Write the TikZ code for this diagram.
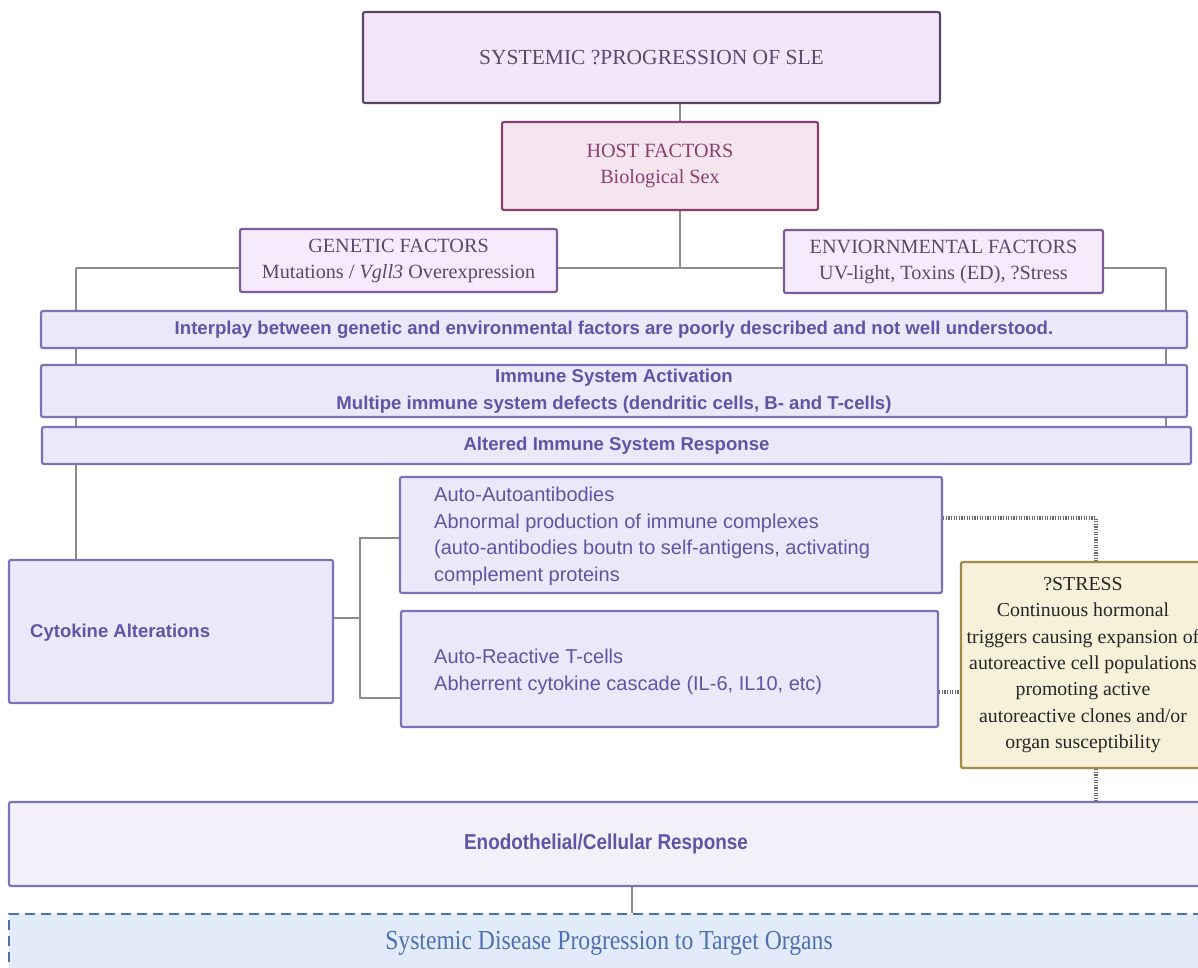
\documentclass[tikz,border=0pt]{standalone}
\usepackage{fontspec}
\setmainfont{Liberation Serif}
\setsansfont{Liberation Sans}
\newfontfamily\narrowsans[FakeStretch=0.88]{Liberation Sans}
\newfontfamily\narrowserif[FakeStretch=0.86]{Liberation Serif}
\usetikzlibrary{calc,backgrounds}
\definecolor{topfill}{HTML}{F3E6FB}
\definecolor{topdraw}{HTML}{5A4468}
\definecolor{hostfill}{HTML}{F5E5EF}
\definecolor{hostdraw}{HTML}{8B3F6F}
\definecolor{facfill}{HTML}{F5EBFC}
\definecolor{facdraw}{HTML}{7E5A96}
\definecolor{factext}{HTML}{5A4A6A}
\definecolor{bandfill}{HTML}{EAE8F9}
\definecolor{banddraw}{HTML}{7B72B8}
\definecolor{bandtext}{HTML}{5E56A4}
\definecolor{stressfill}{HTML}{F6F1D8}
\definecolor{stressdraw}{HTML}{A28A48}
\definecolor{endofill}{HTML}{F3F0FA}
\definecolor{botfill}{HTML}{E2EBF9}
\definecolor{botdraw}{HTML}{4F6FB0}
\definecolor{conn}{HTML}{8C8C8C}
\tikzset{
  basebox/.style={rectangle, rounded corners=2pt, line width=2.2pt, inner sep=0pt, align=center},
  topbox/.style={basebox, fill=topfill, draw=topdraw, text=factext, font=\fontsize{21.5}{25}\selectfont},
  hostbox/.style={basebox, fill=hostfill, draw=hostdraw, text=hostdraw, font=\fontsize{20.2}{26}\selectfont},
  facbox/.style={basebox, fill=facfill, draw=facdraw, text=factext, font=\fontsize{20.2}{26}\selectfont},
  bandbox/.style={basebox, fill=bandfill, draw=banddraw, text=bandtext, font=\sffamily\bfseries\fontsize{18.6}{27}\selectfont},
  subbox/.style={basebox, fill=bandfill, draw=banddraw, text=bandtext},
  subtext/.style={inner sep=0pt, align=left, text=bandtext, font=\sffamily\fontsize{20}{26.6}\selectfont},
  stressbox/.style={basebox, fill=stressfill, draw=stressdraw, text=black!85, font=\fontsize{19.8}{26.4}\selectfont},
  endobox/.style={basebox, fill=endofill, draw=banddraw, text=bandtext, font=\narrowsans\bfseries\fontsize{21.5}{24}\selectfont},
  botbox/.style={rectangle, line width=2.6pt, fill=botfill, draw=botdraw, text=botdraw, dash pattern=on 10pt off 6pt, font=\narrowserif\fontsize{27.5}{30}\selectfont},
  link/.style={draw=conn, line width=2pt},
  dotlink/.style={draw=conn!75!black, line width=3.2pt, dash pattern=on 1.3pt off 1.3pt}
}
\begin{document}
\begin{tikzpicture}[x=1pt,y=-1pt]
\useasboundingbox (0,0) rectangle (1198,967);
\clip (0,0) rectangle (1198,967);

\coordinate (hx) at (680,0);
\coordinate (hj) at (680,268);
\coordinate (lj) at (76,268);
\coordinate (rj) at (1166,268);
\coordinate (bj) at (360,618);
\coordinate (sx) at (1096,0);
\coordinate (ex) at (632,0);

\node[topbox, minimum width=577, minimum height=91] (top) at (651.5,57.5) {SYSTEMIC ?PROGRESSION OF SLE};
\node[hostbox, minimum width=316, minimum height=88] (host) at (660,166) {HOST FACTORS\\Biological Sex};
\node[facbox, minimum width=317, minimum height=63] (gen) at (398.5,260.5) {GENETIC FACTORS\\Mutations / \textit{Vgll3} Overexpression};
\node[facbox, minimum width=319, minimum height=63] (env) at (943.5,261.5) {ENVIORNMENTAL FACTORS\\UV-light, Toxins (ED), ?Stress};
\node[bandbox, minimum width=1146, minimum height=37] (inter) at (614,329.5) {Interplay between genetic and environmental factors are poorly described and not well understood.};
\node[bandbox, minimum width=1146, minimum height=52] (act) at (614,391) {Immune System Activation\\Multipe immune system defects (dendritic cells, B- and T-cells)};
\node[bandbox, minimum width=1149, minimum height=37] (alt) at (616.5,445.5) {Altered Immune System Response};
\node[subbox, minimum width=324, minimum height=143] (cyto) at (171,631.5) {};
\node[subtext, anchor=west, font=\sffamily\bfseries\fontsize{18.5}{24}\selectfont] (cytot) at (30,633) {Cytokine Alterations};
\node[subbox, minimum width=542, minimum height=116] (ab) at (671,535) {};
\node[subtext, anchor=north west] (abt) at (434,487) {Auto-Autoantibodies\\Abnormal production of immune complexes\\(auto-antibodies boutn to self-antigens, activating\\complement proteins};
\node[subbox, minimum width=537, minimum height=116] (ar) at (669.5,669) {};
\node[subtext, anchor=north west] (art) at (434,649) {Auto-Reactive T-cells\\Abherrent cytokine cascade (IL-6, IL10, etc)};
\node[stressbox, minimum width=244, minimum height=206] (stress) at (1083,665) {?STRESS\\Continuous hormonal\\triggers causing expansion of\\autoreactive cell populations\\promoting active\\autoreactive clones and/or\\organ susceptibility};
\node[endobox, minimum width=1194, minimum height=84] (endo) at (606,844) {Enodothelial/Cellular Response};
\node[botbox, minimum width=1200, minimum height=58] (bot) at (609,943) {Systemic Disease Progression to Target Organs};

\begin{scope}[on background layer]
\draw[link] (top.south -| hx) -- (host.north -| hx);
\draw[link] (host.south -| hx) -- (hj);
\draw[link] (lj) -- (rj);
\draw[link] (lj) -- (lj |- cyto.north);
\draw[link] (rj) -- (rj |- alt.north);
\draw[link] (cyto.east |- bj) -- (bj);
\draw[link] ($(ab.west)+(0,3)$) -| (bj) |- ($(ar.west)+(0,29)$);
\draw[dotlink] ($(ab.east)+(0,-17)$) -| (stress.north -| sx);
\draw[dotlink] ($(ar.east)+(0,23)$) -- (stress.west |- {$(ar.east)+(0,23)$});
\draw[dotlink] (stress.south -| sx) -- (endo.north -| sx);
\draw[link] (endo.south -| ex) -- (bot.north -| ex);
\end{scope}
\end{tikzpicture}
\end{document}
